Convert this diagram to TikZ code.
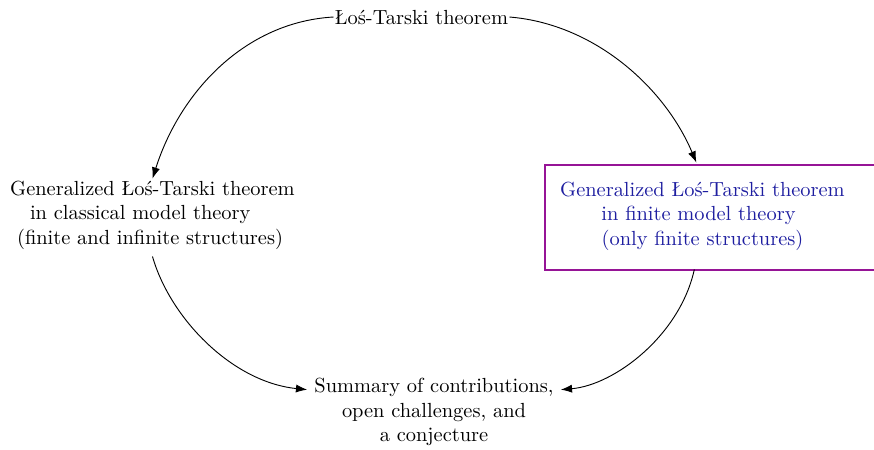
\documentclass[tikz,border=0pt]{standalone}
\usetikzlibrary{arrows.meta}
\definecolor{boxtext}{RGB}{30,30,160}
\definecolor{boxframe}{RGB}{150,20,150}
\begin{document}
\begin{tikzpicture}[x=0.4895pt,y=-0.4895pt,
  topic/.style={align=center},
  link/.style={-{Latex[length=5.5pt,width=4pt]}, line width=0.45pt}]
\useasboundingbox (0,0) rectangle (874,449);

% the four topics
\node[inner sep=0.5pt] (top) at (421.5,17) {Łoś-Tarski theorem};
\node[topic] (left) at (152.5,215)
  {Generalized Łoś-Tarski theorem\\
   in classical model theory\makebox[12pt]{}\\
   (finite and infinite structures)\makebox[2.4pt]{}};
\node[topic, text=boxtext, inner xsep=3pt, inner ysep=9.2pt] (rt) at (702.5,216)
  {Generalized Łoś-Tarski theorem\\
   in finite model theory\makebox[3.9pt]{}\\
   (only finite structures)};
\node[topic] (bottom) at (434,412)
  {Summary of contributions,\\
   open challenges, and\\
   a conjecture};

% frame around the finite model theory topic
\draw[boxframe, line width=0.75pt] (545,165) rectangle (890,270);

% connectors
\draw[link] (top.west) .. controls (245,22) and (180,92) .. ([yshift=-2.5pt]left.north);
\draw[link] (top.east) .. controls (595,24) and (665,88) .. ([xshift=-3pt]rt.north);
\draw[link] (left.south) .. controls (170,318) and (232,382) .. (bottom.170);
\draw[link] ([xshift=-4pt]rt.south) .. controls (680,335) and (615,385) .. (bottom.10);
\end{tikzpicture}
\end{document}
